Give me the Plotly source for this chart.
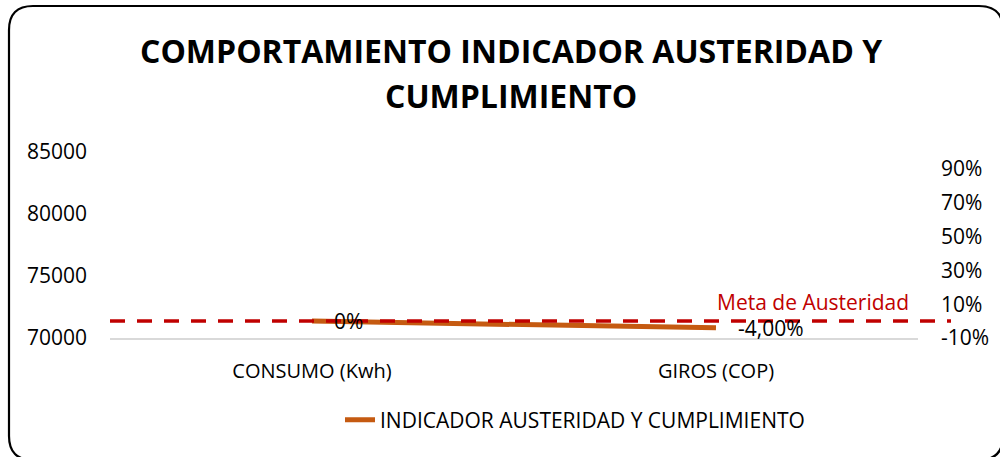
import plotly.graph_objects as go

# ---- data ----
categories = ["CONSUMO (Kwh)", "GIROS (COP)"]
indicador = [0.0, -0.04]
indicador_labels = ["0%", "-4,00%"]
meta_austeridad = 0.0
left_ticks = [70000, 75000, 80000, 85000]
left_tick_text = ["70000", "75000", "80000", "85000"]
right_ticks = [-0.1, 0.1, 0.3, 0.5, 0.7, 0.9]
right_tick_text = ["-10%", "10%", "30%", "50%", "70%", "90%"]

W, H = 1000, 457
FONT = "Open Sans"
ORANGE = "#C55A11"
RED = "#C00000"

def px(x):
    return x / W

def py(y):
    return 1 - y / H

fig = go.Figure()

# empty primary-axis series (keeps the left axis in place)
fig.add_trace(go.Scatter(x=categories, y=[None, None], yaxis="y", mode="lines",
                         showlegend=False, hoverinfo="skip"))

fig.add_trace(go.Scatter(
    x=categories, y=indicador, yaxis="y2", mode="lines",
    name="INDICADOR AUSTERIDAD Y CUMPLIMIENTO",
    line=dict(color=ORANGE, width=5),
    showlegend=True,
))

# data labels
for c, v, t in zip(categories, indicador, indicador_labels):
    fig.add_annotation(x=c, y=v, xref="x", yref="y2", text=t, showarrow=False,
                       xanchor="left", yanchor="middle", xshift=20,
                       font=dict(family=FONT, size=21, color="#000000"))

# meta line
fig.add_shape(type="line", xref="paper", yref="y2", x0=px(110), x1=px(951),
              y0=meta_austeridad, y1=meta_austeridad,
              line=dict(color=RED, width=3.5, dash="15px,12px"))
fig.add_annotation(xref="paper", yref="y2", x=px(911), y=meta_austeridad,
                   text="Meta de Austeridad", showarrow=False, xanchor="right",
                   yanchor="bottom", yshift=3,
                   font=dict(family=FONT, size=21, color=RED))

# title (two lines)
fig.add_annotation(xref="paper", yref="paper", x=px(511), y=py(50),
                   text="<b>COMPORTAMIENTO INDICADOR AUSTERIDAD Y</b>",
                   showarrow=False, xanchor="center", yanchor="middle",
                   font=dict(family=FONT, size=32, color="#000000"))
fig.add_annotation(xref="paper", yref="paper", x=px(511), y=py(96),
                   text="<b>CUMPLIMIENTO</b>",
                   showarrow=False, xanchor="center", yanchor="middle",
                   font=dict(family=FONT, size=32, color="#000000"))

# rounded border
x0, x1, y0, y1, r = 9, 1003, 6, 460, 24
path = (f"M{px(x0 + r)},{py(y0)} L{px(x1 - r)},{py(y0)} Q{px(x1)},{py(y0)} {px(x1)},{py(y0 + r)} "
        f"L{px(x1)},{py(y1 - r)} Q{px(x1)},{py(y1)} {px(x1 - r)},{py(y1)} "
        f"L{px(x0 + r)},{py(y1)} Q{px(x0)},{py(y1)} {px(x0)},{py(y1 - r)} "
        f"L{px(x0)},{py(y0 + r)} Q{px(x0)},{py(y0)} {px(x0 + r)},{py(y0)} Z")
fig.add_shape(type="path", xref="paper", yref="paper", path=path,
              line=dict(color="#000000", width=2.2), layer="above")

fig.update_layout(
    template="none",
    width=W, height=H,
    margin=dict(l=0, r=0, t=0, b=0, pad=0),
    paper_bgcolor="white", plot_bgcolor="white",
    font=dict(family=FONT, size=20, color="#000000"),
    xaxis=dict(domain=[px(110), px(918)], type="category", range=[-0.5, 1.5],
               automargin=False, showgrid=False, zeroline=False, showline=True,
               linecolor="#D9D9D9", linewidth=2, ticks="", ticklabelstandoff=14,
               tickfont=dict(family=FONT, size=20)),
    yaxis=dict(domain=[py(338), py(152)], range=[70000, 85000], tickvals=left_ticks,
               ticktext=left_tick_text, automargin=False, showgrid=False,
               zeroline=False, showline=False, ticks="", ticklabelstandoff=22,
               tickfont=dict(family=FONT, size=21)),
    yaxis2=dict(overlaying="y", side="right", range=[-0.1, 1.0], tickvals=right_ticks,
                ticktext=right_tick_text, automargin=False, showgrid=False,
                zeroline=False, showline=False, ticks="", ticklabelstandoff=22,
                tickfont=dict(family=FONT, size=21)),
    legend=dict(orientation="h", x=px(340), xanchor="left", y=py(420), yanchor="middle",
                font=dict(family=FONT, size=21), bgcolor="rgba(0,0,0,0)"),
    showlegend=True,
)

fig.write_html("out.html", config={"displayModeBar": False},
               post_script="document.body.style.margin='0';")
